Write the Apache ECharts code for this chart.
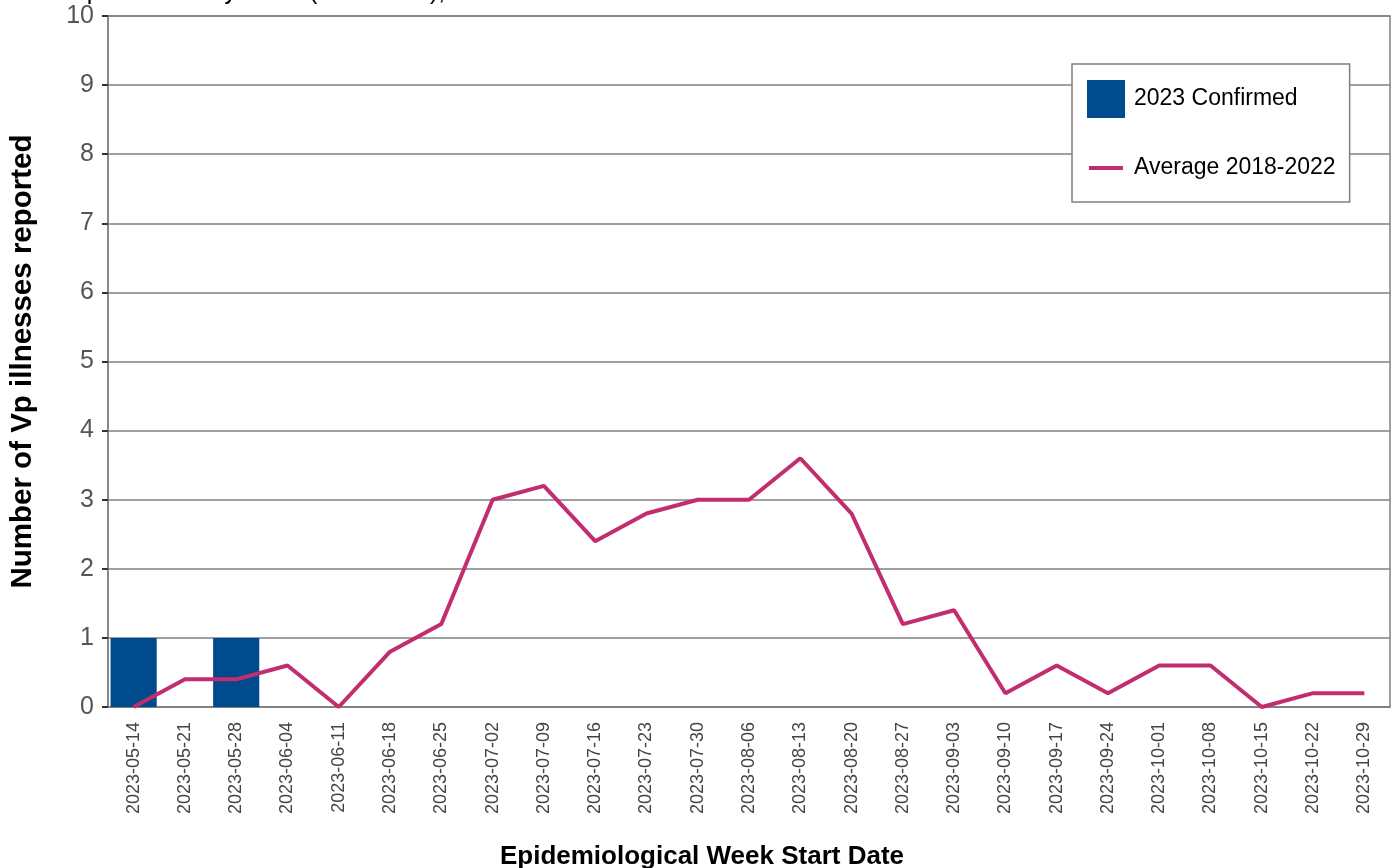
<!DOCTYPE html>
<html>
<head>
<meta charset="utf-8">
<script src="https://cdn.jsdelivr.net/npm/echarts@6/dist/echarts.min.js"></script>
<style>
html,body{margin:0;padding:0;background:#fff;}
#chart{width:1394px;height:868px;}
</style>
</head>
<body>
<div id="chart"></div>
<script>
const weeks = ['2023-05-14','2023-05-21','2023-05-28','2023-06-04','2023-06-11','2023-06-18','2023-06-25','2023-07-02','2023-07-09','2023-07-16','2023-07-23','2023-07-30','2023-08-06','2023-08-13','2023-08-20','2023-08-27','2023-09-03','2023-09-10','2023-09-17','2023-09-24','2023-10-01','2023-10-08','2023-10-15','2023-10-22','2023-10-29'];
const confirmed2023 = [1,0,1,0,0,0,0,0,0,0,0,0,0,0,0,0,0,0,0,0,0,0,0,0,0];
const average2018_2022 = [0,0.4,0.4,0.6,0,0.8,1.2,3.0,3.2,2.4,2.8,3.0,3.0,3.6,2.8,1.2,1.4,0.2,0.6,0.2,0.6,0.6,0,0.2,0.2];
const yTicks = [0,1,2,3,4,5,6,7,8,9,10];

const chart = echarts.init(document.getElementById('chart'), null, {renderer:'canvas'});
const font = 'Liberation Sans, Arial, sans-serif';
chart.setOption({
  animation:false,
  textStyle:{fontFamily:font},
  grid:{left:106,right:4,top:16,bottom:161,show:true,borderColor:'#808080',borderWidth:1.5,containLabel:false},
  graphic:[
    {type:'text',left:70,top:-20,style:{text:'Vp illnesses by week (2023 YTD),',fontSize:25,fontFamily:font,fill:'#000'}},
    {type:'text',x:702,y:857,style:{text:'Epidemiological Week Start Date',fontSize:26,fontWeight:'bold',fontFamily:font,fill:'#000',align:'center',verticalAlign:'middle'}}
  ],
  legend:{
    orient:'vertical',left:1072,top:64,
    itemWidth:38,itemHeight:38,itemGap:31,
    padding:[16,14,15,15],
    borderColor:'#808080',borderWidth:1.5,backgroundColor:'#fff',
    textStyle:{fontSize:23,color:'#000',fontFamily:font,padding:[3,0,0,4]},
    data:[{name:'2023 Confirmed',icon:'rect'},{name:'Average 2018-2022',icon:'path://M0,0M38,38M2,17H36V21H2Z'}]
  },
  xAxis:{
    type:'category',data:weeks,boundaryGap:true,
    axisLine:{lineStyle:{color:'#808080',width:1.5}},
    axisTick:{alignWithLabel:true,length:6,lineStyle:{color:'#333',width:2}},
    axisLabel:{rotate:90,fontSize:18,color:'#444',margin:15,fontFamily:font},
    splitLine:{show:false}
  },
  yAxis:{
    type:'value',min:0,max:10,interval:1,
    name:'Number of Vp illnesses reported',nameLocation:'middle',nameRotate:90,nameGap:70,
    nameTextStyle:{fontSize:29.5,fontWeight:'bold',color:'#000',fontFamily:font},
    axisLine:{show:true,lineStyle:{color:'#808080',width:1.5}},
    axisTick:{show:true,length:6,lineStyle:{color:'#333',width:2}},
    axisLabel:{fontSize:25,color:'#555',margin:14,fontFamily:font,formatter:function(v){return yTicks.indexOf(v)>=0?String(v):'';}},
    splitLine:{show:true,lineStyle:{color:'#808080',width:1.5}}
  },
  series:[
    {name:'2023 Confirmed',type:'bar',data:confirmed2023,barCategoryGap:'10%',itemStyle:{color:'#004B8D'}},
    {name:'Average 2018-2022',type:'line',data:average2018_2022,symbol:'none',lineStyle:{color:'#C22D70',width:4},itemStyle:{color:'#C22D70'}}
  ]
});
</script>
</body>
</html>
